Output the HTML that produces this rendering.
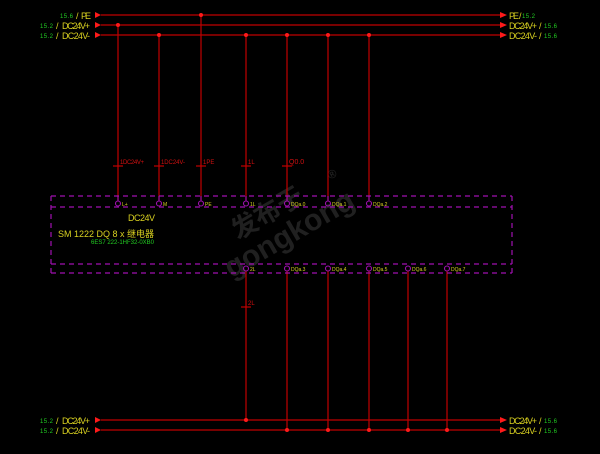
<!DOCTYPE html>
<html><head><meta charset="utf-8"><style>
html,body{margin:0;padding:0;background:#000;}
svg{display:block}
text{font-family:"Liberation Sans","Noto Sans CJK SC",sans-serif;}
</style></head><body>
<svg width="600" height="454" viewBox="0 0 600 454" xmlns="http://www.w3.org/2000/svg">
<rect width="600" height="454" fill="#000"/>
<!-- watermark -->
<g transform="translate(268,232) rotate(-30)" fill="#202020" font-weight="bold">
<text x="-30" y="-8" font-size="26" style="font-family:'Noto Sans CJK SC',sans-serif">发布于</text>
<text x="-55" y="22" font-size="30">gongkong</text>
<text x="80" y="-14" font-size="12">®</text>
</g>
<g stroke="#c00000" stroke-width="1.2">
<line x1="101" y1="15" x2="500" y2="15"/>
<line x1="101" y1="25" x2="500" y2="25"/>
<line x1="101" y1="35" x2="500" y2="35"/>
<line x1="101" y1="420" x2="500" y2="420"/>
<line x1="101" y1="430" x2="500" y2="430"/>
<line x1="118" y1="25" x2="118" y2="200"/>
<line x1="159" y1="35" x2="159" y2="200"/>
<line x1="201" y1="15" x2="201" y2="200"/>
<line x1="246" y1="35" x2="246" y2="200"/>
<line x1="287" y1="35" x2="287" y2="200"/>
<line x1="328" y1="35" x2="328" y2="200"/>
<line x1="369" y1="35" x2="369" y2="200"/>
<line x1="246" y1="271" x2="246" y2="420"/>
<line x1="287" y1="271" x2="287" y2="430"/>
<line x1="328" y1="271" x2="328" y2="430"/>
<line x1="369" y1="271" x2="369" y2="430"/>
<line x1="408" y1="271" x2="408" y2="430"/>
<line x1="447" y1="271" x2="447" y2="430"/>
<line x1="113" y1="166" x2="123" y2="166"/>
<line x1="154" y1="166" x2="164" y2="166"/>
<line x1="196" y1="166" x2="206" y2="166"/>
<line x1="241" y1="166" x2="251" y2="166"/>
<line x1="282" y1="166" x2="292" y2="166"/>
<line x1="241" y1="307" x2="251" y2="307"/>
</g>
<g fill="#ff1a1a">
<circle cx="201" cy="15" r="2"/><circle cx="118" cy="25" r="2"/>
<circle cx="159" cy="35" r="2"/><circle cx="246" cy="35" r="2"/><circle cx="287" cy="35" r="2"/><circle cx="328" cy="35" r="2"/><circle cx="369" cy="35" r="2"/>
<circle cx="246" cy="420" r="2"/>
<circle cx="287" cy="430" r="2"/><circle cx="328" cy="430" r="2"/><circle cx="369" cy="430" r="2"/><circle cx="408" cy="430" r="2"/><circle cx="447" cy="430" r="2"/>
<polygon points="95,12 101,15 95,18"/><polygon points="95,22 101,25 95,28"/><polygon points="95,32 101,35 95,38"/>
<polygon points="95,417 101,420 95,423"/><polygon points="95,427 101,430 95,433"/>
<polygon points="500,12 507,15 500,18"/><polygon points="500,22 507,25 500,28"/><polygon points="500,32 507,35 500,38"/>
<polygon points="500,417 507,420 500,423"/><polygon points="500,427 507,430 500,433"/>
</g>
<g fill="#d01010" font-size="6">
<text x="120" y="164" textLength="24">1DC24V+</text>
<text x="161" y="164" textLength="24">1DC24V-</text>
<text x="203" y="164">1PE</text>
<text x="248" y="164">1L</text>
<text x="289" y="164" font-size="7">Q0.0</text>
<text x="248" y="305">2L</text>
</g>
<g font-size="6" fill="#22cc22">
<text x="60" y="18" textLength="13">15.6</text><text x="40" y="28" textLength="13">15.2</text><text x="40" y="38" textLength="13">15.2</text>
<text x="40" y="423" textLength="13">15.2</text><text x="40" y="433" textLength="13">15.2</text>
<text x="522" y="18" textLength="13">15.2</text><text x="544" y="28" textLength="13">15.6</text><text x="544" y="38" textLength="13">15.6</text>
<text x="544" y="423" textLength="13">15.6</text><text x="544" y="433" textLength="13">15.6</text>
</g>
<g font-size="9" fill="#d8d020">
<text x="76" y="19">/</text><text x="81" y="19" textLength="10">PE</text>
<text x="56" y="29">/</text><text x="62" y="29" textLength="28">DC24V+</text>
<text x="56" y="39">/</text><text x="62" y="39" textLength="28">DC24V-</text>
<text x="56" y="424">/</text><text x="62" y="424" textLength="28">DC24V+</text>
<text x="56" y="434">/</text><text x="62" y="434" textLength="28">DC24V-</text>
<text x="509" y="19" textLength="10">PE</text><text x="519" y="19">/</text>
<text x="509" y="29" textLength="28">DC24V+</text><text x="539" y="29">/</text>
<text x="509" y="39" textLength="28">DC24V-</text><text x="539" y="39">/</text>
<text x="509" y="424" textLength="28">DC24V+</text><text x="539" y="424">/</text>
<text x="509" y="434" textLength="28">DC24V-</text><text x="539" y="434">/</text>
</g>
<g stroke="#a010b0" stroke-width="1.2" fill="none" stroke-dasharray="5,4">
<line x1="51" y1="196" x2="512" y2="196"/>
<line x1="51" y1="207" x2="512" y2="207"/>
<line x1="51" y1="264" x2="512" y2="264"/>
<line x1="51" y1="273" x2="512" y2="273"/>
<line x1="51" y1="196" x2="51" y2="273"/>
<line x1="512" y1="196" x2="512" y2="273"/>
</g>
<g stroke="#a010b0" stroke-width="1.1" fill="none">
<line x1="118" y1="196" x2="118" y2="201"/><line x1="159" y1="196" x2="159" y2="201"/><line x1="201" y1="196" x2="201" y2="201"/><line x1="246" y1="196" x2="246" y2="201"/><line x1="287" y1="196" x2="287" y2="201"/><line x1="328" y1="196" x2="328" y2="201"/><line x1="369" y1="196" x2="369" y2="201"/>
<circle cx="118" cy="203.5" r="2.5"/><circle cx="159" cy="203.5" r="2.5"/><circle cx="201" cy="203.5" r="2.5"/><circle cx="246" cy="203.5" r="2.5"/><circle cx="287" cy="203.5" r="2.5"/><circle cx="328" cy="203.5" r="2.5"/><circle cx="369" cy="203.5" r="2.5"/>
<circle cx="246" cy="268.5" r="2.5"/><circle cx="287" cy="268.5" r="2.5"/><circle cx="328" cy="268.5" r="2.5"/><circle cx="369" cy="268.5" r="2.5"/><circle cx="408" cy="268.5" r="2.5"/><circle cx="447" cy="268.5" r="2.5"/>
</g>
<g fill="#d8d020" font-size="5">
<text x="122" y="206">L+</text><text x="163" y="206">M</text><text x="205" y="206">PE</text><text x="250" y="206">1L</text>
<text x="291" y="206">DQa.0</text><text x="332" y="206">DQa.1</text><text x="373" y="206">DQa.2</text>
<text x="250" y="271">2L</text><text x="291" y="271">DQa.3</text><text x="332" y="271">DQa.4</text><text x="373" y="271">DQa.5</text><text x="412" y="271">DQa.6</text><text x="451" y="271">DQa.7</text>
</g>
<text x="128" y="221" font-size="9" fill="#d8d020" textLength="27">DC24V</text>
<text x="58" y="237" font-size="9" fill="#d8d020">SM 1222 DQ 8 x 继电器</text>
<text x="91" y="244" font-size="6" fill="#22cc22" textLength="63">6ES7 222-1HF32-0XB0</text>
</svg>
</body></html>
